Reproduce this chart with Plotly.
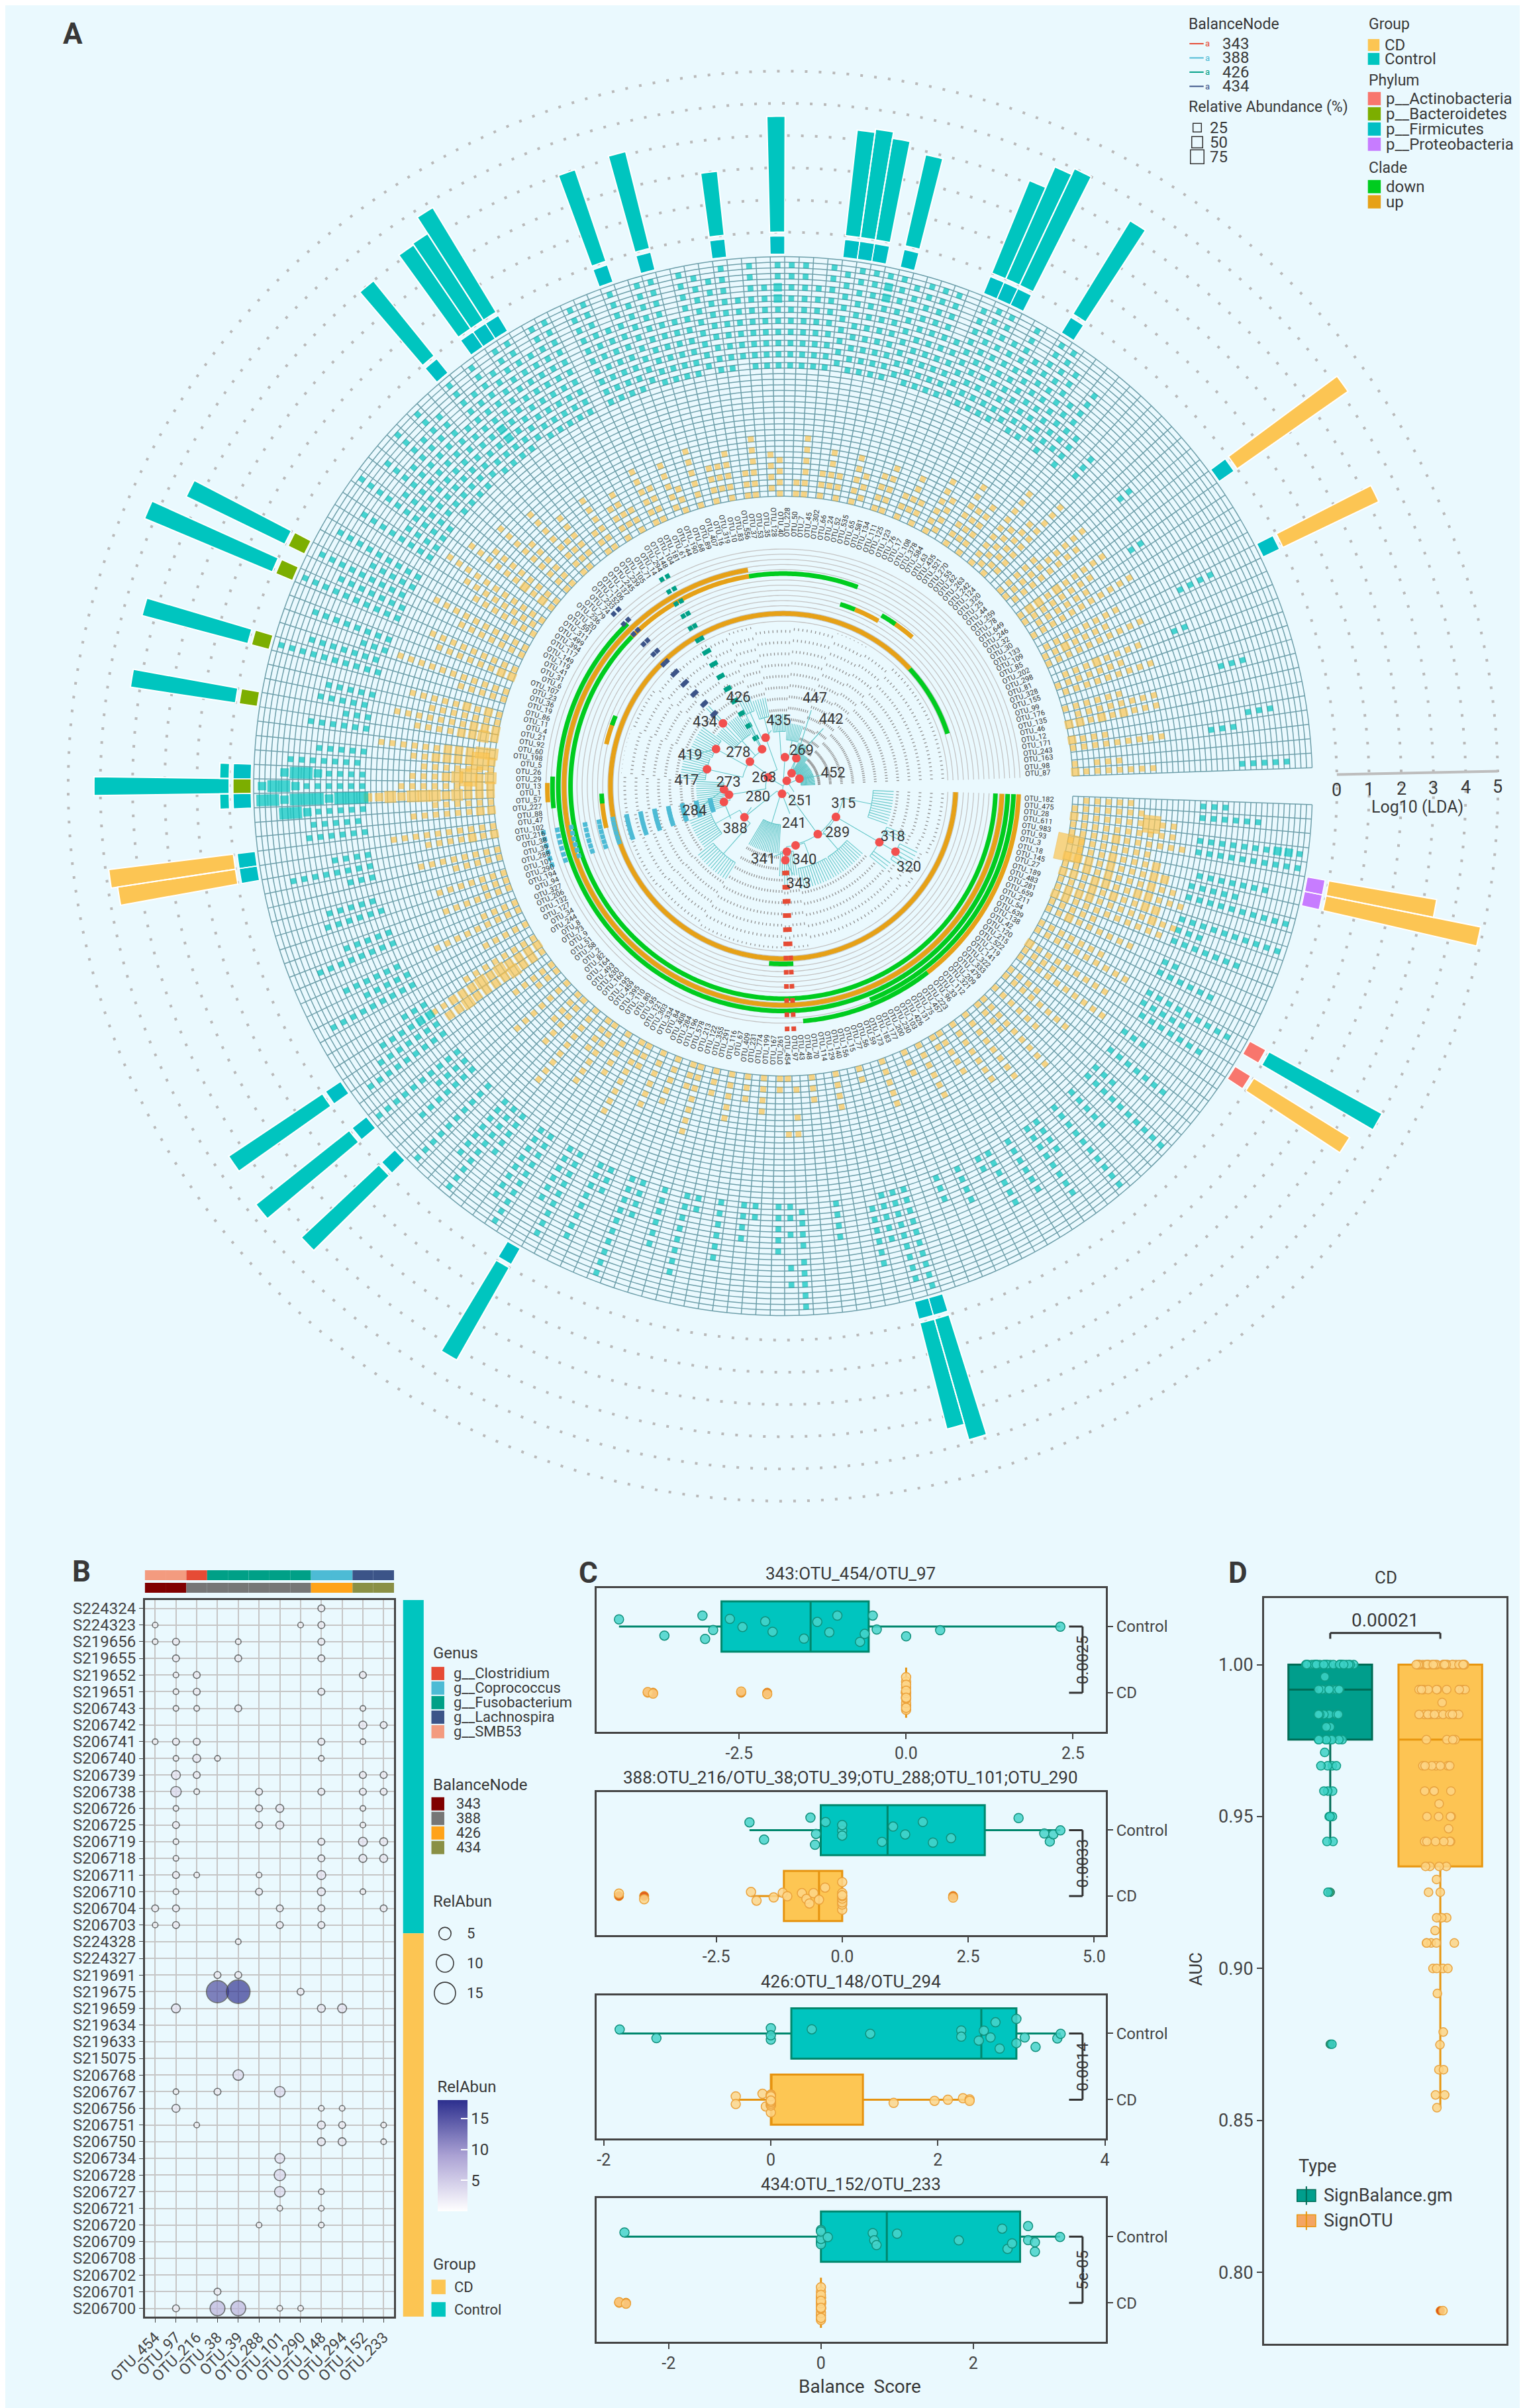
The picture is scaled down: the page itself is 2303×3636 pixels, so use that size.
import numpy as np
import plotly.graph_objects as go

W, H = 2303, 3636
BG = '#EAF9FE'
FONT = 'Roboto'
INK = '#383838'

# ------------------------------------------------------------------
# panel A : tree tips, counter-clockwise starting at the opening (0 deg)
tip_ids = [
    87, 98, 163, 243, 171, 12, 46, 135, 176, 99, 155, 328, 81, 298, 202, 85, 109, 133, 30, 32,
    246, 649, 78, 259, 44, 25, 320, 124, 242, 263, 62, 55, 270, 521, 435, 63, 584, 378, 108, 17,
    76, 123, 125, 111, 134, 581, 65, 535, 52, 24, 66, 302, 45, 7, 50, 228, 40, 128, 35, 53,
    37, 556, 83, 10, 319, 16, 407, 89, 68, 190, 144, 61, 181, 104, 148, 294,
    14, 71, 105, 239, 245, 137, 106, 152, 233, 74, 79, 236, 20, 591, 311, 499, 394, 117, 149, 119,
    41, 31, 6, 107, 23, 36, 19, 86, 11, 4,
    21, 92, 60, 198, 5, 26, 29, 13, 1, 57, 227, 88, 47, 102, 216, 38, 39, 288, 101, 290,
    194, 94, 327, 206, 132, 127, 34, 244, 8, 73, 9, 51, 58, 2, 82, 164, 493, 630, 160, 195,
    459, 395, 110, 80, 95, 121, 303, 334, 84, 408, 284, 196, 578, 213, 122, 355, 291, 116, 67, 409,
    231, 774, 199, 167, 261,
    454, 97, 43, 48, 70, 114, 129, 140, 156, 15, 77, 56, 59, 173, 183, 177, 200, 230, 103, 426,
    131, 75, 457, 223, 96, 33, 112, 321, 209, 479, 333, 322, 141, 719, 522, 215, 120, 42, 138, 639,
    54, 211, 659, 281, 483, 189, 27, 145, 18, 3, 93, 983, 611, 28, 475, 182,
]

# abundance rings per tip: CD samples (23, inner) | Control samples (20, outer)
# '.' = absent, 1..5 = abundance class
heat_rows = [
    # 0-43
    "2.1.1.1.1.1.1.1|.......1.1.1.1.1", "1...1.1.1|", "|", "1.1.1.1.1.1.1.1.1|..1.1.1",
    "2.1.1.1|.........1.1.1", "|", "2.2.1.2.1.2.1.1.1|", "..1.1.1.1.1.1.1.1|",
    "1.1.1.1.1.1|......1.1.1", "|", ".1.1.1.1.1.1.1.1.1|", "1.1.1.1.1.1.1|",
    "..1.1.1.2.1.1.1.1|1.1", "|", "1.1.1.1.1.1.1.1.1.1|", "1.1.2.1.1.1.1|....1.1.1.1",
    ".1.1.1.1.1.1.1.1|", "|", "1.1.1.1.1.1.1.1.1.1.1|", "..1.1.1.1.1.1|",
    "1.1.1.1.1.1.1.1|1.1", "1.2.2.1.2.1.1.1.1.1|", "|", ".1.1.1.1.1.1.1.1|",
    "1.1.1.1.1.1.1.1.1.1|....1.1", "1.1.1.1.1|", "|", "..1.1.1.1.1.1.1.1.1|",
    "1.1.1.1.1.1.1|.1.1.1", ".1.1.1.1.1|", "1.1.1.1.1.1.1.1.1|1.1.1.1", "|..1.1.1.1.1.1.1",
    "1.1.1.1.1.1|1.1.1.1.1.1", "..1.1.1.1|.1.1.1.1.1.1.1.1", "1.1.1.1.1.1.1|1.1.1.1.1.1.1.1.1.1",
    "|1.1.1.1.1.1.1.1.1.1", ".1.1.1.1|.1.1.1.1.1.1.1", "1.1.1.1.1.1|1.1.1.1.1.1.1.1.1.1",
    "|1.1.1.1.1.1.1.1", "1.1.1|1.1.1.1.1.1.1.1.1.1", "..1.1.1.1|1.1.1.1.1.1.1.1.1.1",
    "1.1.1|.1.1.1.1.1.1.1.1.1", "|1.1.1.1.1.1", "1.1.1.1.1|1.1.1.1.1.1.1.1.1.1",
    # 44-75
    "1.1.1.1|1.1.1.1.1.1.1.1.1.1", "|1.1.1.1.1.1.1.1.1.1", ".1.1.1|.1.1.1.1.1.1.1.1.1",
    "1.1.1.1.1|1.1.1.1.1.1.1.1.1.1", "|1.1.1.1.1.1.1.2.2.1", "1.1.1|1.1.1.1.1.1.1.1.1.1",
    "..1.1.1.1|1.1.1.1.1.1.1.1.1.1", "1.1.1|.1.1.1.1.1.1.1.1.1", "|1.1.1.1.1.1.1.1.1.1",
    "1.1.1.1.1.1|1.1.1.1.1.1.1.1", "1.1|1.1.1.1.1.1.1.1.1.1", "|1.1.1.1.1.1.1.1.1.1",
    "1.1.1.1|1.1.1.1.1.1.2.2.1.1", ".1.1.1.1|1.1.1.1.1.1.1.1", "|1.1.1.1.1.1.1.1.1.1",
    "1.1.1.1.1.1|..1.1.1.1.1.1", "1.1.1|1.1.1.1.1.1.1.1.1.1", "|1.1.1.1.1.1.1.1.1",
    "1.1.1.1.1|.1.1.1.1.1.1.1.1.1", "..1.1.1|1.1.1.1.1.1.1.1.1.1", "1.1.1.1|1.1.1.1.1.1",
    "|1.1.1.1.1.1.1.1.1.1", "1.1.1.1.1.1|1.1.1.1.1.1.1.1.1.1", "|.1.1.1.1.1.1.1.1",
    "1.1.1|1.1.1.1.1.1.1.1.1.1", ".1.1.1.1.1|1.1.1.1.1.1.1", "|1.1.1.1.1.1.1.1.1.1",
    "1.1.1.1|1.1.1.1.1.1.1.1.1.1", "1.1.1.1.1.1|", "|1.1.1.1.1.1.1.1.1.1",
    "1.1.1|1.1.1.1.1.1.1.1.1.1", "..1.1.1.1|1.1.1.1.1.1.1.1",
    # 76-105
    "1.1.1.1|1.1.1.1.1.1.1.1.1.1", "|1.1.1.1.1.1.1.1.1.1", "1.1.1.1.1.1|.1.1.1.1.1.1.1.1",
    "1.1.1|1.1.1.1.1.1.1.1.1.1", "|1.1.2.2.1.1.1.1", "..1.1.1.1.1|1.1.1.1.1.1.1.1.1.1",
    "1.1.1.1|1.1.1.1.1.1", "1.1.1.1.1.1.1.1|.1.1.1.1.1.1.1.1", "|1.1.1.1.1.1.1.1.1.1",
    "1.1.1.1.1.1|1.1.1.1.1.1.1.1", "1.1.1.1.1.1.1.1.1|1.1.1.1.1.1.1.1.1.1", "|1.1.1.1.1.1.1",
    "1.1.1.1.1.1.1.1|..1.1.1.1.1.1.1.1", "1.2.1.2.1.1.1.1.1.1|1.1.1.1.1.1", "|1.1.1.1.1.1.1.1.1.1",
    "1.1.1.1.1.1.1.1.1.1.1|1.1.1.1", ".1.1.1.1.1.1.1.1|1.1.1.1.1.1.1.1", "1.1.1.1.1.1.1|",
    "|1.1.1.1.1.1.1.1.1", "1.1.1.1.1.1.1.1.1.1|1.1.1.1.1", "1.1.1.1.1.1.1|.1.1.1.1.1.1.1.1.1",
    "|1.1.1.1.1.1.1", "1.1.1.1.1.1.1.1.1|1.1.1.1.1.1.1.1.1.1", "2.2.1.1.1.1.1.1|",
    "|1.1.1.1.1.1.1.1", "1.1.1.1.1.1.1.1.1.1.1|1.1.1", "1.1.1.1.1|.1.1.1.1.1.1.1",
    "|1.1.1.1.1.1.1.1.1.1", "1.2.1.2.1.1.1.1.1|", "1.1.1.1.1.1.1|1.1.1.1.1",
    # 106-125
    "2.2.2.1.1.1.1.1.1.1|.1.1.1.1.1", "2.3.2.2.1.1.1.1|1.1.1", "|1.1.1.1.1.1",
    "3.3.2.2.2.1.1.1.1.1.1|", "2.4.2.2.2.2.1.1|1.1.1.1.1", "1.1.1.1.1.1.1|.1.1.1.1.1.1.1",
    "3.2.4.3.2.1.1.1|1.1.1.1.2.3.3.2", "2.2.2.1.1.1.1.1.1|1.1.1.1.1.1.2.3.3.2",
    "2.2.2.3.2.3.3.3.2.3.2.2|3.3.3.2.3.3.3.2.3.3", "1.1.1.1.1.1|1.1.1.1.1.2.3.3",
    "2.2.1.1.1.1.1.1|.1.1.1.1.1", "|1.1.1.1.1.1", "1.1.1.1.1.1.1.1.1.1|", "2.1.2.1.1.1.1|1.1.1.1",
    "|1.1.1.1.1.1.1.1", "1.1.1.1.1.1.1.1|1.1.1", "1.1.1.1.1|", "|.1.1.1.1.1",
    "1.1.1.1.1.1.1|1.1.1.1.1.1", "1.1.1|",
    # 126-170
    "1.1.1.1.1.1.1|1.1.1.1.1", "|1.1.1.1.1.1.1.1", "1.1.1.1|", "1.1.1.1.1.1.1.1.1|.1.1.1.1.1.1",
    "|1.1.1.1.1", "1.1.1.1.1|1.1.1.1.1.1.1.1.1", "|", "1.1.1.1.1.1.1.1|1.1.1",
    "2.2.2.2.3.2.3.2.2.2.1.1|2.2.1.1.1.1", "1.2.2.3.2.2.2.2.3.2.2|1.1.1.1.1.1.1",
    "|1.1.1.1.1.1.1.1.1", "1.1.1.1.1|", "1.1.1|1.1.1.1.1.1.1.1.1.1", "|1.1.1.1",
    "1.1.1.1.1.1.1|1.1.1.1.1.1.1", "|", "1.1.1.1|1.1.1.1.1.1.1.1.1.1", "1.1.1.1.1.1|",
    "|1.1.1.1.1.1.1", "1.1.1.1.1.1.1.1.1|1.1.1.1.1.1.1.1.1.1", "|1.1.1.1.1", "1.1.1.1|",
    "1.1.1.1.1.1.1|1.1.1.1.1.1.1.1", "|1.1.1.1.1.1.1.1.1.1", "1.1.1.1.1|", "|1.1.1.1.1.1",
    "1.1.1.1.1.1.1.1|1.1.1.1.1.1.1.1.1", "1.1.1|", "|1.1.1.1.1.1.1.1", "1.1.1.1.1.1|1.1.1",
    "|", "1.1.1.1.1|1.1.1.1.1.1.1.1.1.1", "|1.1.1.1", "1.1.1|", "1.1.1.1.1.1.1|1.1.1.1.1.1",
    "|", "1.1.1|1.1.1.1.1.1.1.1", "|1.1", "1.1.1.1.1|", "|1.1.1.1.1.1", "1.1.1|", "|1.1.1.1",
    "1.1.1.1|1.1", "|", "1.1|1.1.1.1.1",
    # 171-190
    "1.........1|1.1..1.....1..1", "..1....1..1|.1.1.1.1..1.1.1.1.1.", "|", "1.1.1|", "|1.1.1.1",
    "|", "1.1.1.1|", "|..1.1.1.1.1.1", "|1.1.1.1.1", "1.1|1.1.1.1.1.1.1.1.1",
    "|1.1.1.1.1.1.1.1.1.1", "|", "1.1.1.1.1|", "|1.1.1", "|", "1.1.1|1.1.1.1", "|",
    "1.1.1.1.1.1|1.1", "|1.1.1.1.1.1", "1.1|",
    # 191-226
    "1.1.1.1.1|1.1.1.1.1.1", "|", "1.1.1.1.1.1.1|1.1.1.1.1.1.1.1", "|1.1.1.1",
    "1.1.1.1.1.1.1.1|", "|1.1.1.1.1.1.1.1.1.1", "1.1.1.1|", "1.1.1.1.1.1.1.1.1|1.1.1.1.1",
    "|", "1.1.1.1.1.1|1.1.1.1.1.1.1.1.1.1", "|1.1.1", "1.1.1.1.1.1.1.1|",
    "1.1.1.1|1.1.1.1.1.1.1", "|", "1.1.1.1.1.1.1.1.1.1|1.1.1", "1.1.1.1|",
    "2.1.1.1.1.1.1.1.1|.1.1.1.1.1.1.1", "|1.1.1.1.1", "1.1.1.1.1.1.1.1.1.1|1.1.1.1.1.1.1.1.1",
    "1.1.1.1.1.1.1|", "|1.1.1.1.1.1", "1.1.2.1.1.1.1.1.1|1.1", "1.1.1.1.1|",
    "2.2.1.1.1.1.1.1.1.1.1|1.1.1.1.1.1.1", "1.2.2.2.1.1.1.1.1.2.1.1|1.1.1",
    "1.1.1.2.1.2.1.1.2.2|1.1.1.1.1.1.1.1.1.1", "2.2.1.2.2.1.1.2.2.1.1.1|",
    "1.1.2.1.2.1.1.1.2.1.1|1.1.1.1.1.1.1.1.1.1", "2.2.2.1.2.1.1.1.2.2|1.1.1.1.1",
    "5.1.1.1.2.1.1.1.2|.1.1.1.1.1.1.1", "1.1.1.1.1.1.1.1|",
    "1.1.1.1.2.1.1.1.1.1.1|1.1.1.1.1.1.1.1.1.1", "1.1.1.1.1.1.1.1.1.1|1.1.1.1.1.1.1.2.2.1",
    "2.1.1.1.1.1.1.4.1.1|", "1.1.1.1.1.1.1|1.1.1.1.1.1", "..1.1.1.1.1|1.1.1",
]

# LDA effect size (log10) of the discriminant OTUs
lda_otu = ['OTU_85', 'OTU_649', 'OTU_63', 'OTU_17', 'OTU_76', 'OTU_123', 'OTU_535', 'OTU_24',
           'OTU_66', 'OTU_302', 'OTU_40', 'OTU_37', 'OTU_16', 'OTU_68', 'OTU_14', 'OTU_71',
           'OTU_105', 'OTU_137', 'OTU_41', 'OTU_6', 'OTU_86', 'OTU_92', 'OTU_29', 'OTU_13',
           'OTU_1', 'OTU_47', 'OTU_102', 'OTU_73', 'OTU_58', 'OTU_164', 'OTU_121', 'OTU_15',
           'OTU_77', 'OTU_120', 'OTU_138', 'OTU_3', 'OTU_93']
lda_value = [3.3, 4.2, 3.4, 4.0, 3.8, 3.1, 2.9, 3.2, 3.4, 3.3, 3.6, 2.0, 3.1, 3.0, 3.8, 3.2,
             3.15, 3.0, 3.4, 4.3, 3.4, 3.3, 0.3, 4.2, 0.3, 3.9, 3.7, 3.5, 3.7, 3.3, 3.3, 3.4,
             3.9, 3.5, 4.0, 4.9, 3.4]
lda_group = ['CD', 'CD'] + ['Control'] * 23 + ['CD', 'CD'] + ['Control'] * 6 + ['CD', 'Control', 'CD', 'CD']
lda_phylum = (['p__Firmicutes'] * 18 + ['p__Bacteroidetes'] * 4 + ['p__Firmicutes', 'p__Bacteroidetes',
              'p__Firmicutes'] + ['p__Firmicutes'] * 8 + ['p__Actinobacteria'] * 2 + ['p__Proteobacteria'] * 2)

# clade tracks: (track, clade, first tip, last tip)
clade_arcs = [
    (0, 'up', 26, 226), (0, 'down', 10, 25), (1, 'down', 168, 172),
    (2, 'down', 99, 100), (2, 'up', 100, 104), (2, 'down', 115, 116), (2, 'up', 116, 121),
    (3, 'up', 37, 41), (3, 'down', 42, 44), (4, 'up', 30, 34), (4, 'down', 34, 36),
    (5, 'down', 43, 61), (5, 'up', 62, 84), (5, 'down', 85, 226),
    (6, 'up', 62, 226), (7, 'down', 84, 226),
    (8, 'down', 185, 226), (8, 'down', 112, 116),
    (9, 'up', 195, 226), (9, 'up', 113, 115), (9, 'down', 174, 194),
]

# tree: name, parent, depth, first tip, last tip, tip depth, labelled
tree_nodes = [
    ('root', None, 0, 0, 226, 0, False),
    ('251', 'root', 10, 0, 62, 40, True),
    ('452', '251', 28, 0, 28, 50, True),
    ('447', '251', 24, 29, 43, 58, True),
    ('442', '447', 48, 36, 43, 72, True),
    ('269', '251', 45, 44, 62, 80, True),
    ('n1', '269', 72, 44, 53, 98, False),
    ('n2', '269', 85, 54, 62, 112, False),
    ('263', 'root', 27, 63, 125, 120, True),
    ('435', '263', 80, 63, 73, 120, True),
    ('n3', '435', 110, 63, 68, 140, False),
    ('n4', '435', 125, 69, 73, 150, False),
    ('278', '263', 64, 74, 110, 120, True),
    ('426', '278', 66, 74, 75, 120, True),
    ('n5', '278', 95, 76, 89, 130, False),
    ('434', 'n5', 135, 83, 84, 170, True),
    ('419', '278', 119, 90, 99, 155, True),
    ('417', '278', 121, 100, 110, 160, True),
    ('273', '263', 85, 111, 125, 130, True),
    ('284', '273', 92, 111, 119, 135, True),
    ('388', '273', 95, 120, 125, 140, True),
    ('241', 'root', 12, 126, 226, 100, True),
    ('280', '241', 77, 126, 150, 120, True),
    ('n6', '280', 120, 126, 137, 155, False),
    ('n7', '280', 140, 138, 150, 170, False),
    ('n8', '241', 60, 151, 168, 105, False),
    ('289', '241', 92, 169, 226, 130, True),
    ('340', '289', 94, 169, 190, 130, True),
    ('341', '340', 102, 169, 176, 140, True),
    ('343', '341', 115, 171, 172, 160, True),
    ('n9', '340', 130, 177, 190, 162, False),
    ('315', '289', 95, 191, 226, 140, True),
    ('n10', '315', 130, 191, 202, 162, False),
    ('318', '315', 173, 203, 214, 205, True),
    ('320', '318', 202, 206, 211, 232, True),
    ('n11', '315', 140, 215, 226, 172, False),
]
balance_nodes = ['343', '388', '426', '434']

# ------------------------------------------------------------------
# panel B
b_samples = ['S224324', 'S224323', 'S219656', 'S219655', 'S219652', 'S219651', 'S206743', 'S206742',
             'S206741', 'S206740', 'S206739', 'S206738', 'S206726', 'S206725', 'S206719', 'S206718',
             'S206711', 'S206710', 'S206704', 'S206703', 'S224328', 'S224327', 'S219691', 'S219675',
             'S219659', 'S219634', 'S219633', 'S215075', 'S206768', 'S206767', 'S206756', 'S206751',
             'S206750', 'S206734', 'S206728', 'S206727', 'S206721', 'S206720', 'S206709', 'S206708',
             'S206702', 'S206701', 'S206700']
b_group = ['Control'] * 20 + ['CD'] * 23
b_otus = ['OTU_454', 'OTU_97', 'OTU_216', 'OTU_38', 'OTU_39', 'OTU_288', 'OTU_101', 'OTU_290',
          'OTU_148', 'OTU_294', 'OTU_152', 'OTU_233']
b_genus = ['g__SMB53', 'g__SMB53', 'g__Clostridium', 'g__Fusobacterium', 'g__Fusobacterium',
           'g__Fusobacterium', 'g__Fusobacterium', 'g__Fusobacterium', 'g__Coprococcus',
           'g__Coprococcus', 'g__Lachnospira', 'g__Lachnospira']
b_node = ['343', '343', '388', '388', '388', '388', '388', '388', '426', '426', '434', '434']
b_abund = {
    'S224324': {'OTU_148': 1.5},
    'S224323': {'OTU_454': 1.0, 'OTU_290': 1.0, 'OTU_148': 1.5},
    'S219656': {'OTU_454': 1.0, 'OTU_97': 1.5, 'OTU_39': 1.0, 'OTU_148': 1.5},
    'S219655': {'OTU_97': 1.5, 'OTU_39': 1.5, 'OTU_148': 1.5},
    'S219652': {'OTU_97': 1.0, 'OTU_216': 1.5, 'OTU_152': 1.5},
    'S219651': {'OTU_97': 1.0, 'OTU_216': 1.5, 'OTU_148': 1.5},
    'S206743': {'OTU_97': 1.0, 'OTU_216': 1.0, 'OTU_39': 1.5, 'OTU_152': 1.0},
    'S206742': {'OTU_152': 2.0, 'OTU_233': 1.5},
    'S206741': {'OTU_454': 1.0, 'OTU_97': 1.5, 'OTU_216': 1.5, 'OTU_148': 1.5, 'OTU_152': 1.0},
    'S206740': {'OTU_97': 1.0, 'OTU_216': 2.0, 'OTU_38': 1.0, 'OTU_148': 1.0},
    'S206739': {'OTU_97': 2.5, 'OTU_216': 1.5, 'OTU_152': 1.5, 'OTU_233': 1.5},
    'S206738': {'OTU_97': 3.5, 'OTU_216': 1.0, 'OTU_288': 1.5, 'OTU_148': 1.5, 'OTU_152': 1.5, 'OTU_233': 1.5},
    'S206726': {'OTU_97': 1.0, 'OTU_288': 1.5, 'OTU_101': 2.0, 'OTU_152': 1.0},
    'S206725': {'OTU_97': 1.5, 'OTU_288': 1.5, 'OTU_101': 2.0, 'OTU_152': 1.0},
    'S206719': {'OTU_97': 1.0, 'OTU_148': 1.5, 'OTU_152': 2.5, 'OTU_233': 2.0},
    'S206718': {'OTU_97': 1.0, 'OTU_148': 1.5, 'OTU_152': 2.0, 'OTU_233': 2.0},
    'S206711': {'OTU_97': 1.5, 'OTU_216': 1.0, 'OTU_288': 1.0, 'OTU_148': 2.5},
    'S206710': {'OTU_97': 1.0, 'OTU_288': 1.5, 'OTU_148': 2.0, 'OTU_152': 1.0},
    'S206704': {'OTU_454': 1.5, 'OTU_97': 1.5, 'OTU_101': 1.5, 'OTU_148': 1.5, 'OTU_233': 1.5},
    'S206703': {'OTU_454': 1.0, 'OTU_97': 1.5, 'OTU_101': 1.5, 'OTU_148': 1.5},
    'S224328': {'OTU_39': 1.0},
    'S224327': {},
    'S219691': {'OTU_38': 1.5, 'OTU_39': 1.5},
    'S219675': {'OTU_38': 15.5, 'OTU_39': 17.5, 'OTU_290': 1.5},
    'S219659': {'OTU_97': 2.5, 'OTU_148': 2.0, 'OTU_294': 2.5},
    'S219634': {}, 'S219633': {}, 'S215075': {},
    'S206768': {'OTU_39': 3.5},
    'S206767': {'OTU_97': 1.0, 'OTU_38': 1.5, 'OTU_101': 3.5},
    'S206756': {'OTU_97': 2.0, 'OTU_148': 1.0, 'OTU_294': 1.0},
    'S206751': {'OTU_216': 1.0, 'OTU_148': 2.0, 'OTU_294': 1.5, 'OTU_233': 1.0},
    'S206750': {'OTU_148': 2.0, 'OTU_294': 2.0, 'OTU_233': 1.0},
    'S206734': {'OTU_101': 3.0},
    'S206728': {'OTU_101': 4.0},
    'S206727': {'OTU_101': 3.5, 'OTU_148': 1.0},
    'S206721': {'OTU_101': 1.0, 'OTU_148': 1.0},
    'S206720': {'OTU_288': 1.0, 'OTU_148': 1.0},
    'S206709': {}, 'S206708': {}, 'S206702': {},
    'S206701': {'OTU_38': 1.5},
    'S206700': {'OTU_97': 1.5, 'OTU_38': 7.0, 'OTU_39': 7.0, 'OTU_101': 1.0, 'OTU_290': 1.0},
}

# ------------------------------------------------------------------
# panel C : balance scores
c_titles = ['343:OTU_454/OTU_97', '388:OTU_216/OTU_38;OTU_39;OTU_288;OTU_101;OTU_290',
            '426:OTU_148/OTU_294', '434:OTU_152/OTU_233']
c_pvalues = ['0.0025', '0.0033', '0.0014', '5e-05']
c_control = [
    [-4.30, -3.62, -3.05, -3.01, -2.89, -2.64, -2.45, -2.11, -2.00, -1.53, -1.33, -1.15, -1.03,
     -0.69, -0.62, -0.50, -0.44, 0.00, 0.51, 2.31],
    [-1.84, -1.55, -0.63, -0.54, -0.52, -0.33, 0.00, 0.00, 0.00, 0.79, 1.01, 1.25, 1.60, 1.80,
     2.16, 3.50, 4.01, 4.12, 4.19, 4.33],
    [-1.81, -1.37, 0.00, 0.00, 0.00, 0.49, 1.19, 2.28, 2.28, 2.49, 2.55, 2.63, 2.69, 2.74, 2.94,
     2.94, 3.04, 3.17, 3.43, 3.47],
    [-2.58, 0.00, 0.00, 0.00, 0.00, 0.00, 0.09, 0.68, 0.70, 0.73, 1.00, 1.81, 2.38, 2.45, 2.51,
     2.72, 2.72, 2.81, 2.81, 3.14],
]
c_cd = [
    [-3.87, -3.79, -2.47, -2.08, 0.00, 0.00, 0.00, 0.00, 0.00, 0.00, 0.00, 0.00, 0.00, 0.00, 0.00,
     0.00, 0.00, 0.00, 0.00, 0.00, 0.00, 0.00, 0.00],
    [-4.43, -3.93, -1.81, -1.70, -1.36, -1.18, -1.09, -0.80, -0.71, -0.65, -0.57, -0.46, -0.34,
     0.00, 0.00, 0.00, 0.00, 0.00, 0.00, 0.00, 0.00, 0.00, 2.20],
    [-0.42, -0.42, -0.10, -0.06, 0.00, 0.00, 0.00, 0.00, 0.00, 0.00, 0.00, 0.00, 0.00, 0.00, 0.00,
     0.00, 0.00, 1.47, 1.96, 2.12, 2.30, 2.38, 2.38],
    [-2.65, -2.56, 0.00, 0.00, 0.00, 0.00, 0.00, 0.00, 0.00, 0.00, 0.00, 0.00, 0.00, 0.00, 0.00,
     0.00, 0.00, 0.00, 0.00, 0.00, 0.00, 0.00, 0.00],
]

# panel D : AUC, value levels and how many runs reached each
d_balance_auc = [1.0, 0.996, 0.9918, 0.9836, 0.9795, 0.9753, 0.9711, 0.9667, 0.9584, 0.95,
                 0.9418, 0.9251, 0.8751]
d_balance_n = [26, 1, 9, 7, 2, 9, 1, 4, 3, 3, 2, 1, 1]
d_otu_auc = [1.0, 0.9918, 0.9875, 0.9836, 0.9753, 0.9667, 0.9584, 0.9542, 0.95, 0.946, 0.9418,
             0.9336, 0.9293, 0.9251, 0.9167, 0.9125, 0.9084, 0.90, 0.8918, 0.8791, 0.8749,
             0.8667, 0.8584, 0.8542, 0.7874]
d_otu_n = [30, 12, 1, 12, 4, 7, 4, 1, 4, 1, 6, 4, 1, 2, 4, 1, 5, 4, 1, 1, 1, 2, 2, 1, 1]
d_pvalue = '0.00021'

# ------------------------------------------------------------------
GROUP_COL = {'CD': '#FCC553', 'Control': '#00C5BF'}
PHYLUM_COL = {'p__Actinobacteria': '#F8766D', 'p__Bacteroidetes': '#7CAE00',
              'p__Firmicutes': '#00BFC4', 'p__Proteobacteria': '#C77CFF'}
CLADE_COL = {'down': '#00CC1F', 'up': '#E6A117'}
BAL_COL = {'343': '#E64B35', '388': '#4DBBD5', '426': '#00A087', '434': '#3C5488'}
GENUS_COL = {'g__Clostridium': '#E64B35', 'g__Coprococcus': '#4DBBD5', 'g__Fusobacterium': '#00A087',
             'g__Lachnospira': '#3C5488', 'g__SMB53': '#F39B7F'}
NODE_COL = {'343': '#800000', '388': '#767676', '426': '#FFA319', '434': '#8A9045'}

# where each node number sits (radius px, angle deg) - label placement only
NODE_LABEL_AT = {'426': (153, 117), '434': (156, 141), '435': (101, 94), '447': (144, 70),
                 '442': (127, 54), '269': (61, 62), '452': (80, 14), '278': (86, 144),
                 '419': (152, 162), '417': (150, 177), '273': (85, 177), '263': (32, 158),
                 '280': (43, 205), '251': (36, 318), '284': (143, 196), '388': (100, 222),
                 '241': (62, 286), '315': (98, 343), '289': (112, 319), '318': (188, 335),
                 '320': (233, 327), '341': (119, 255), '340': (120, 286), '343': (155, 279)}


def px2x(v):
    return v / W


def px2y(v):
    return 1 - v / H


# polar geometry (px)
CX, CY, R_OUT = 1149, 1179, 1116
HEAT_IN, RING, N_S = 450, 8.65, 43
HEAT_OUT = HEAT_IN + RING * N_S
PHY_BASE, PHY_H = 826, 28
LDA_BASE, LDA_UNIT = 860, 50
LABEL_R = 377
TRACK_R = [268, 276, 282, 296, 306, 330, 340, 349, 358, 366]

N = len(tip_ids)
otu_names = ['OTU_%d' % t for t in tip_ids]
GAP = 2.0
STEP = (360 - 2 * GAP) / N
tip_theta = np.array([GAP + (i + 0.5) * STEP for i in range(N)])
edge_theta = np.array([GAP + i * STEP for i in range(N + 1)])
tip_index = {n: i for i, n in enumerate(otu_names)}


def to_paper(r, th):
    t = np.radians(th)
    return (CX + r * np.cos(t)) / W, 1 - (CY - r * np.sin(t)) / H


def arc(r, t0, t1, step=0.8):
    n = max(2, int(abs(t1 - t0) / step) + 2)
    ts = list(np.linspace(t0, t1, n))
    return [r] * n, ts


def sector(r0, r1, t0, t1):
    ts = list(np.linspace(t0, t1, 5))
    return [r0] * 5 + [r1] * 5 + [r0], ts + ts[::-1] + [t0]


fig = go.Figure()


def pol(r, t, **kw):
    fig.add_trace(go.Scatterpolar(r=r, theta=t, subplot='polar', showlegend=False,
                                  hoverinfo='skip', **kw))


# dotted LDA guide circles
for k in range(6):
    rr, tt = arc(LDA_BASE + k * LDA_UNIT, 0, 360, 0.5)
    pol(rr, tt, mode='lines', line=dict(color='#B9B9B9', width=4, dash='4px,17px'))

# heat-map grid
gr, gt = [], []
for k in range(N_S + 1):
    rr, tt = arc(HEAT_IN + k * RING, edge_theta[0], edge_theta[-1], 1.0)
    gr += rr + [None]
    gt += tt + [None]
for th in edge_theta:
    gr += [HEAT_IN, HEAT_OUT, None]
    gt += [th, th, None]
pol(gr, gt, mode='lines', line=dict(color='#6E9FAA', width=1.5))

# heat-map dots
SIZE = {'1': 8, '2': 12, '3': 17, '4': 26, '5': 40}
rows = (heat_rows + ['|'] * N)[:N]
dots = {'CD': ([], [], [], []), 'Control': ([], [], [], [])}
for i, row in enumerate(rows):
    cd, ct = row.split('|')
    cells = (cd + '.' * 23)[:23] + (ct + '.' * 20)[:20]
    for k, ch in enumerate(cells):
        if ch in SIZE:
            g = 'CD' if k < 23 else 'Control'
            d = dots[g]
            d[0].append(HEAT_IN + (k + 0.5) * RING)
            d[1].append(tip_theta[i])
            d[2].append(SIZE[ch])
            d[3].append(-tip_theta[i])
for g, edge in (('CD', '#E9A92E'), ('Control', '#07A7A1')):
    d = dots[g]
    pol(d[0], d[1], mode='markers',
        marker=dict(symbol='square', size=d[2], angle=d[3], color=GROUP_COL[g],
                    line=dict(color=edge, width=0.6)))

# clade track guide circles
cr, ct_ = [], []
for j in range(15):
    rr, tt = arc(256 + 8 * j, edge_theta[0], edge_theta[-1], 1.0)
    cr += rr + [None]
    ct_ += tt + [None]
pol(cr, ct_, mode='lines', line=dict(color='#C4C4C4', width=1.3))

for clade in ('up', 'down'):
    rr_all, tt_all = [], []
    for track, c, a, b in clade_arcs:
        if c != clade:
            continue
        rr, tt = arc(TRACK_R[track], edge_theta[a], edge_theta[b + 1], 0.6)
        rr_all += rr + [None]
        tt_all += tt + [None]
    pol(rr_all, tt_all, mode='lines', line=dict(color=CLADE_COL[clade], width=7))

# tree
node = {n[0]: dict(parent=n[1], depth=n[2], first=n[3], last=n[4], tipd=n[5], show=n[6])
        for n in tree_nodes}
tip_parent = []
for i in range(N):
    best = None
    for name, nd in node.items():
        if nd['first'] <= i <= nd['last']:
            if best is None or (nd['last'] - nd['first']) < (node[best]['last'] - node[best]['first']):
                best = name
    tip_parent.append(best)
children = {name: [c for c in node if node[c]['parent'] == name] for name in node}
direct_tips = {name: [i for i in range(N) if tip_parent[i] == name] for name in node}


def node_angle(name):
    angs = [node_angle(c) for c in children[name]] + [tip_theta[i] for i in direct_tips[name]]
    node[name]['kids'] = angs
    node[name]['theta'] = 0.5 * (min(angs) + max(angs))
    return node[name]['theta']


node_angle('root')

tr, tt = [], []
dr, dt = [], []
for name, nd in node.items():
    if nd['depth'] > 0:
        rr, aa = arc(nd['depth'], min(nd['kids']), max(nd['kids']), 0.6)
        tr += rr + [None]
        tt += aa + [None]
    if nd['parent'] is not None:
        tr += [node[nd['parent']]['depth'], nd['depth'], None]
        tt += [nd['theta'], nd['theta'], None]
for i in range(N):
    p = node[tip_parent[i]]
    tr += [p['depth'], p['tipd'], None]
    tt += [tip_theta[i], tip_theta[i], None]
    dr += [p['tipd'] + 4, 252, None]
    dt += [tip_theta[i], tip_theta[i], None]
pol(dr, dt, mode='lines', line=dict(color='#8E8E8E', width=1.3, dash='4px,13px'))
pol(tr, tt, mode='lines', line=dict(color='#62C6C8', width=1.1))

# balance node squares
for b in balance_nodes:
    nd = node[b]
    br, bt, ba = [], [], []
    r = nd['depth'] + 20
    while r < 392:
        for i in range(nd['first'], nd['last'] + 1):
            br.append(r)
            bt.append(tip_theta[i])
            ba.append(-tip_theta[i])
        r += 22
    pol(br, bt, mode='markers', marker=dict(symbol='square', size=7, angle=ba, color=BAL_COL[b]))

# labelled nodes with leader lines
shown = [n for n in node if node[n]['show']]
lr, lt = [], []
for n in shown:
    r0, t0 = node[n]['depth'], node[n]['theta']
    r1, t1 = NODE_LABEL_AT[n]
    x0, y0 = r0 * np.cos(np.radians(t0)), r0 * np.sin(np.radians(t0))
    x1, y1 = r1 * np.cos(np.radians(t1)), r1 * np.sin(np.radians(t1))
    dist = np.hypot(x1 - x0, y1 - y0)
    if dist > 30:
        f = (dist - 18) / dist
        xe, ye = x0 + (x1 - x0) * f, y0 + (y1 - y0) * f
        lr += [r0, float(np.hypot(xe, ye)), None]
        lt += [t0, float(np.degrees(np.arctan2(ye, xe))), None]
pol(lr, lt, mode='lines', line=dict(color='#62C6C8', width=1.2))
pol([node[n]['depth'] for n in shown], [node[n]['theta'] for n in shown], mode='markers',
    marker=dict(size=13, color='#F2504E'))
pol([NODE_LABEL_AT[n][0] for n in shown], [NODE_LABEL_AT[n][1] for n in shown], mode='text',
    text=shown, textposition='middle center', textfont=dict(size=22, color=INK, family=FONT))

# phylum squares and LDA bars
for ph, col in PHYLUM_COL.items():
    rr_all, tt_all = [], []
    for o, p in zip(lda_otu, lda_phylum):
        if p != ph:
            continue
        i = tip_index[o]
        rr, aa = sector(PHY_BASE, PHY_BASE + PHY_H, edge_theta[i], edge_theta[i + 1])
        rr_all += rr + [None]
        tt_all += aa + [None]
    if rr_all:
        pol(rr_all, tt_all, mode='lines', fill='toself', fillcolor=col, line=dict(color='white', width=1.5))
for g in ('CD', 'Control'):
    rr_all, tt_all = [], []
    for o, v, gg in zip(lda_otu, lda_value, lda_group):
        if gg != g:
            continue
        i = tip_index[o]
        rr, aa = sector(LDA_BASE, LDA_BASE + v * LDA_UNIT, edge_theta[i], edge_theta[i + 1])
        rr_all += rr + [None]
        tt_all += aa + [None]
    pol(rr_all, tt_all, mode='lines', fill='toself', fillcolor=GROUP_COL[g], line=dict(color='white', width=2))

# LDA axis in the opening
AX_T = 1.2
pol([LDA_BASE, LDA_BASE + 5 * LDA_UNIT], [AX_T, AX_T], mode='lines', line=dict(color='#BDBDBD', width=4))

annotations = []
shapes = []


def ann(x, y, text, size=22, color=INK, xanchor='center', yanchor='middle', angle=0, bold=False, **kw):
    annotations.append(dict(x=x, y=y, xref='paper', yref='paper', text=('<b>%s</b>' % text) if bold else text,
                            showarrow=False, xanchor=xanchor, yanchor=yanchor, textangle=angle,
                            font=dict(size=size, color=color, family=FONT), **kw))


for k in range(6):
    x, y = to_paper(LDA_BASE + k * LDA_UNIT, AX_T)
    ann(x, y - 24 / H, str(k), size=27)
x, y = to_paper(LDA_BASE + 2.5 * LDA_UNIT, AX_T)
ann(x, y - 52 / H, 'Log10 (LDA)', size=25)

# tip labels
for i, name in enumerate(otu_names):
    th = tip_theta[i]
    rc = LABEL_R + 3.1 * len(name)
    x, y = to_paper(rc, th)
    angle = 180 - th if 90 < th < 270 else -th
    if angle < -180:
        angle += 360
    ann(x, y, name, size=11, color='#333333', angle=angle)

ann(px2x(46), px2y(42), 'A', size=44, bold=True)


def rect(x0, y0, x1, y1, fill, line='rgba(0,0,0,0)', lw=0, xref='paper', yref='paper'):
    shapes.append(dict(type='rect', xref=xref, yref=yref, x0=x0, x1=x1, y0=y0, y1=y1,
                       fillcolor=fill, line=dict(color=line, width=lw), layer='above'))


def rect_px(x0, y0, x1, y1, fill, line='rgba(0,0,0,0)', lw=0):
    rect(px2x(x0), px2y(y1), px2x(x1), px2y(y0), fill, line, lw)


def line_px(x0, y0, x1, y1, color, width):
    shapes.append(dict(type='line', xref='paper', yref='paper', x0=px2x(x0), x1=px2x(x1),
                       y0=px2y(y0), y1=px2y(y1), line=dict(color=color, width=width)))


# panel A legends
ann(px2x(1777), px2y(28), 'BalanceNode', xanchor='left', size=23)
for j, b in enumerate(balance_nodes):
    yy = 57 + j * 21.5
    line_px(1780, yy, 1802, yy, BAL_COL[b], 2)
    ann(px2x(1808), px2y(yy), 'a', size=13, color=BAL_COL[b])
    ann(px2x(1829), px2y(yy), b, xanchor='left', size=24)
ann(px2x(1777), px2y(153), 'Relative Abundance (%)', xanchor='left', size=23)
for j, (lab, s) in enumerate((('25', 13), ('50', 17), ('75', 21))):
    yy = 184 + j * 22
    rect_px(1792 - s / 2, yy - s / 2, 1792 + s / 2, yy + s / 2, 'rgba(0,0,0,0)', '#333333', 1.5)
    ann(px2x(1810), px2y(yy), lab, xanchor='left', size=24)
ann(px2x(2056), px2y(28), 'Group', xanchor='left', size=23)
for j, g in enumerate(('CD', 'Control')):
    yy = 59 + j * 21
    rect_px(2057, yy - 9, 2075, yy + 9, GROUP_COL[g])
    ann(px2x(2081), px2y(yy), g, xanchor='left', size=24)
ann(px2x(2056), px2y(113), 'Phylum', xanchor='left', size=23)
for j, (ph, col) in enumerate(PHYLUM_COL.items()):
    yy = 140 + j * 23
    rect_px(2057, yy - 10, 2077, yy + 10, col)
    ann(px2x(2083), px2y(yy), ph, xanchor='left', size=24)
ann(px2x(2056), px2y(245), 'Clade', xanchor='left', size=23)
for j, c in enumerate(('down', 'up')):
    yy = 273 + j * 23
    rect_px(2057, yy - 10, 2077, yy + 10, CLADE_COL[c])
    ann(px2x(2083), px2y(yy), c, xanchor='left', size=24)

# ------------------------------------------------------------------
# panel B
bx, by, bv = [], [], []
for r, s in enumerate(b_samples):
    for o, v in b_abund[s].items():
        bx.append(b_otus.index(o))
        by.append(r)
        bv.append(v)
fig.add_trace(go.Scatter(
    x=bx, y=by, mode='markers', xaxis='x', yaxis='y', showlegend=False, hoverinfo='skip',
    marker=dict(size=[8.5 * np.sqrt(v) for v in bv], color=bv, cmin=0, cmax=18,
                colorscale=[[0, '#FFFFFF'], [0.5, '#ABA2D4'], [1, '#2C2F8E']],
                line=dict(color='#3B3B3B', width=1.6),
                colorbar=dict(x=px2x(602), xanchor='left', y=px2y(3232), yanchor='middle',
                              len=221, lenmode='pixels', thickness=45, thicknessmode='pixels',
                              tickvals=[5, 10, 15], ticks='inside', tickcolor='white', ticklen=10,
                              tickwidth=2, outlinewidth=0,
                              tickfont=dict(size=24, color=INK, family=FONT),
                              title=dict(text='RelAbun', side='top', font=dict(size=24, color=INK, family=FONT))))))
for i in range(len(b_otus)):
    rect(i - 0.5, px2y(2379), i + 0.5, px2y(2364), GENUS_COL[b_genus[i]], xref='x')
    rect(i - 0.5, px2y(2398), i + 0.5, px2y(2383), NODE_COL[b_node[i]], xref='x')
g0 = 0
for g in ('Control', 'CD'):
    n = b_group.count(g)
    rect(px2x(559), g0 - 0.5, px2x(591), g0 + n - 0.5, GROUP_COL[g], yref='y')
    g0 += n

ann(px2x(60), px2y(2366), 'B', size=44, bold=True)
ann(px2x(603), px2y(2489), 'Genus', xanchor='left', size=24)
for j, (gname, col) in enumerate(GENUS_COL.items()):
    yy = 2520 + j * 22
    rect_px(603, yy - 10, 623, yy + 10, col)
    ann(px2x(635), px2y(yy), gname, xanchor='left', size=22)
ann(px2x(603), px2y(2688), 'BalanceNode', xanchor='left', size=24)
for j, (nname, col) in enumerate(NODE_COL.items()):
    yy = 2717 + j * 22
    rect_px(603, yy - 10, 623, yy + 10, col)
    ann(px2x(640), px2y(yy), nname, xanchor='left', size=22)
ann(px2x(603), px2y(2864), 'RelAbun', xanchor='left', size=24)
for j, v in enumerate((5, 10, 15)):
    yy = 2913 + j * 45
    d = 8.5 * np.sqrt(v)
    shapes.append(dict(type='circle', xref='paper', yref='paper', x0=px2x(624 - d / 2), x1=px2x(624 + d / 2),
                       y0=px2y(yy + d / 2), y1=px2y(yy - d / 2), line=dict(color='#3B3B3B', width=1.6)))
    ann(px2x(656), px2y(yy), str(v), xanchor='left', size=22)
ann(px2x(603), px2y(3413), 'Group', xanchor='left', size=24)
for j, g in enumerate(('CD', 'Control')):
    yy = 3447 + j * 34
    rect_px(603, yy - 11, 625, yy + 11, GROUP_COL[g])
    ann(px2x(636), px2y(yy), g, xanchor='left', size=22)

# ------------------------------------------------------------------
# panel C
C_FRAMES = [(2391, 2608, 2369), (2699, 2915, 2677), (3006, 3223, 2985), (3313, 3530, 3292)]
C_RANGES = [[-4.64, 2.99], [-4.88, 5.23], [-2.09, 4.01], [-2.95, 3.74]]
C_TICKS = [[-2.5, 0, 2.5], [-2.5, 0, 2.5, 5.0], [-2, 0, 2, 4], [-2, 0, 2]]
C_TICKTXT = [['-2.5', '0.0', '2.5'], ['-2.5', '0.0', '2.5', '5.0'], ['-2', '0', '2', '4'], ['-2', '0', '2']]
C_STYLE = {
    'Control': dict(fill='#00C5BF', line='#00876D', pt='rgba(70,212,202,0.85)', ptline='#10907C', out='#10907C'),
    'CD': dict(fill='#FDC653', line='#E6930F', pt='rgba(253,214,138,0.85)', ptline='#EBA13A', out='#E2601E'),
}
layout_axes = {}
for k in range(4):
    ax = k + 2
    y_top, y_bot, y_title = C_FRAMES[k]
    xa, ya = 'x%d' % ax, 'y%d' % ax
    for g, vals, pos in (('Control', c_control[k], 1), ('CD', c_cd[k], 0)):
        st = C_STYLE[g]
        fig.add_trace(go.Box(x=vals, y=[pos] * len(vals), orientation='h', width=0.76, boxpoints='outliers',
                             fillcolor=st['fill'], line=dict(color=st['line'], width=3), whiskerwidth=0,
                             marker=dict(color=st['out'], size=14, line=dict(color=st['line'], width=1)),
                             xaxis=xa, yaxis=ya, showlegend=False, hoverinfo='skip'))
        fig.add_trace(go.Box(x=vals, y=[pos] * len(vals), orientation='h', width=0.76, boxpoints='all',
                             jitter=0.7, pointpos=0, fillcolor='rgba(0,0,0,0)',
                             line=dict(color='rgba(0,0,0,0)', width=0), whiskerwidth=0,
                             marker=dict(color=st['pt'], size=14, line=dict(color=st['ptline'], width=1.5)),
                             xaxis=xa, yaxis=ya, showlegend=False, hoverinfo='skip'))
    layout_axes['xaxis%d' % ax] = dict(domain=[px2x(859), px2x(1650)], range=C_RANGES[k], anchor=ya,
                                       tickvals=C_TICKS[k], ticktext=C_TICKTXT[k], ticks='outside',
                                       ticklen=8, tickwidth=2, tickcolor='#444444', showgrid=False,
                                       zeroline=False, showline=True, mirror=True, linecolor='#444444',
                                       linewidth=3, tickfont=dict(size=25, color='#444444', family=FONT))
    layout_axes['yaxis%d' % ax] = dict(domain=[px2y(y_bot), px2y(y_top)], range=[-0.59, 1.58], anchor=xa,
                                       side='right', tickvals=[0, 1], ticktext=['CD', 'Control'],
                                       ticks='outside', ticklen=8, tickwidth=2, tickcolor='#444444',
                                       showgrid=False, zeroline=False, showline=True, mirror=True,
                                       linecolor='#444444', linewidth=3,
                                       tickfont=dict(size=24, color='#444444', family=FONT))
    ann(px2x(1254), px2y(y_title), c_titles[k], size=26)
    for (xa0, y0, xa1, y1) in ((1593, 1, 1614, 1), (1614, 1, 1614, 0), (1614, 0, 1593, 0)):
        shapes.append(dict(type='line', xref='paper', yref=ya, x0=px2x(xa0), x1=px2x(xa1), y0=y0, y1=y1,
                           line=dict(color='#333333', width=3)))
    annotations.append(dict(x=px2x(1631), y=0.5, xref='paper', yref=ya, text=c_pvalues[k], showarrow=False,
                            textangle=-90, font=dict(size=24, color=INK, family=FONT)))
ann(px2x(847), px2y(2368), 'C', size=44, bold=True)
ann(px2x(1268), px2y(3597), 'Balance  Score', size=28)

# ------------------------------------------------------------------
# panel D
D_STYLE = {
    0: dict(fill='#009E8C', line='#006C56', pt='rgba(60,209,198,0.85)', ptline='#0D9B84', out='#3E9C72'),
    1: dict(fill='#FDC453', line='#E8960F', pt='rgba(253,213,133,0.85)', ptline='#E9A440', out='#E0571B'),
}
for pos, (lev, cnt) in enumerate(((d_balance_auc, d_balance_n), (d_otu_auc, d_otu_n))):
    vals = [v for v, c in zip(lev, cnt) for _ in range(c)]
    st = D_STYLE[pos]
    fig.add_trace(go.Box(y=vals, x=[pos] * len(vals), width=0.76, boxpoints='outliers', fillcolor=st['fill'],
                         line=dict(color=st['line'], width=3), whiskerwidth=0,
                         marker=dict(color=st['out'], size=13, line=dict(color=st['line'], width=1)),
                         xaxis='x6', yaxis='y6', showlegend=False, hoverinfo='skip'))
    fig.add_trace(go.Box(y=vals, x=[pos] * len(vals), width=0.76, boxpoints='all', jitter=0.6, pointpos=0,
                         fillcolor='rgba(0,0,0,0)', line=dict(color='rgba(0,0,0,0)', width=0), whiskerwidth=0,
                         marker=dict(color=st['pt'], size=13, line=dict(color=st['ptline'], width=1.5)),
                         xaxis='x6', yaxis='y6', showlegend=False, hoverinfo='skip'))
layout_axes['xaxis6'] = dict(domain=[px2x(1896), px2x(2272)], range=[-0.6, 1.6], anchor='y6',
                             showticklabels=False, ticks='', showgrid=False, zeroline=False,
                             showline=True, mirror=True, linecolor='#444444', linewidth=3)
layout_axes['yaxis6'] = dict(domain=[px2y(3533), px2y(2406)], range=[0.7765, 1.0219], anchor='x6',
                             tickvals=[0.80, 0.85, 0.90, 0.95, 1.00],
                             ticktext=['0.80', '0.85', '0.90', '0.95', '1.00'], ticks='outside',
                             ticklen=8, tickwidth=2, tickcolor='#444444', showgrid=False, zeroline=False,
                             showline=True, mirror=True, linecolor='#444444', linewidth=3,
                             tickfont=dict(size=27, color='#444444', family=FONT))
for (x0, y0, x1, y1) in ((0, 1.0085, 0, 1.0104), (0, 1.0104, 1, 1.0104), (1, 1.0104, 1, 1.0085)):
    shapes.append(dict(type='line', xref='x6', yref='y6', x0=x0, x1=x1, y0=y0, y1=y1,
                       line=dict(color='#333333', width=3)))
annotations.append(dict(x=0.5, y=1.0106, xref='x6', yref='y6', text=d_pvalue, showarrow=False,
                        yanchor='bottom', font=dict(size=28, color=INK, family=FONT)))
ann(px2x(1855), px2y(2368), 'D', size=44, bold=True)
ann(px2x(2085), px2y(2375), 'CD', size=26)
ann(px2x(1790), px2y(2967), 'AUC', size=26, angle=-90)
ann(px2x(1947), px2y(3265), 'Type', xanchor='left', size=27)
for j, (lab, fill, ln) in enumerate((('SignBalance.gm', '#009E8C', '#006C56'), ('SignOTU', '#F4A562', '#E8960F'))):
    yy = 3309 + j * 38
    rect_px(1947, yy - 9, 1976, yy + 9, fill, ln, 1.5)
    line_px(1961.5, yy - 14, 1961.5, yy + 14, ln, 2)
    ann(px2x(1986), px2y(yy), lab, xanchor='left', size=27)

# ------------------------------------------------------------------
fig.update_layout(
    width=W, height=H, margin=dict(l=0, r=0, t=0, b=0),
    paper_bgcolor=BG, plot_bgcolor=BG, showlegend=False,
    font=dict(family=FONT, color=INK),
    polar=dict(domain=dict(x=[px2x(CX - R_OUT), px2x(CX + R_OUT)], y=[px2y(CY + R_OUT), px2y(CY - R_OUT)]),
               bgcolor='rgba(0,0,0,0)',
               radialaxis=dict(visible=False, range=[0, R_OUT]),
               angularaxis=dict(visible=False)),
    xaxis=dict(domain=[px2x(158), px2x(545)], range=[-0.5, 11.5], anchor='y',
               tickvals=list(range(len(b_otus))), ticktext=b_otus, tickangle=-45, ticks='outside',
               ticklen=6, tickcolor='#444444', showgrid=True, gridcolor='#C6C6C6', gridwidth=1.5,
               zeroline=False, showline=True, mirror=True, linecolor='#444444', linewidth=2.5,
               tickfont=dict(size=23, color='#444444', family=FONT)),
    yaxis=dict(domain=[px2y(3492), px2y(2409)], range=[42.5, -0.5], anchor='x',
               tickvals=list(range(len(b_samples))), ticktext=b_samples, ticks='outside',
               ticklen=6, tickcolor='#444444', showgrid=True, gridcolor='#C6C6C6', gridwidth=1.5,
               zeroline=False, showline=True, mirror=True, linecolor='#444444', linewidth=2.5,
               tickfont=dict(size=24, color='#444444', family=FONT)),
    annotations=annotations, shapes=shapes,
    **layout_axes,
)

fig.write_html("out.html")
